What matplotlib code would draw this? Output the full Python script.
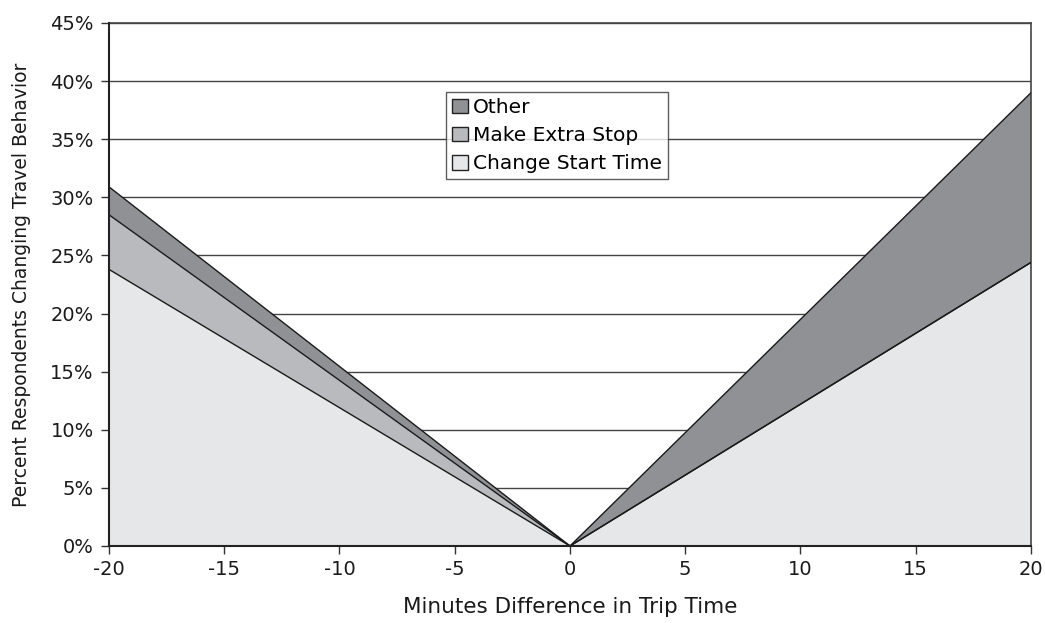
import matplotlib
matplotlib.use("Agg")
import matplotlib.pyplot as plt
from matplotlib.patches import Patch
from matplotlib.ticker import FuncFormatter

plt.rcParams['font.family'] = ['DejaVu Sans']
plt.rcParams['axes.unicode_minus'] = False

minutes = [-20, 0, 20]
change_start = [23.8, 0.0, 24.4]
extra_stop = [4.7, 0.0, 0.0]
other = [2.4, 0.0, 14.6]
labels = ["Change Start Time", "Make Extra Stop", "Other"]
colors = ["#e6e7e9", "#b9babd", "#909195"]

fig = plt.figure(figsize=(10.45, 6.23), dpi=100)
ax = fig.add_axes([0.1043, 0.1236, 0.8823, 0.8395])

series = [change_start, extra_stop, other]
base = [0.0] * len(minutes)
for vals, col in zip(series, colors):
    top = [b + v for b, v in zip(base, vals)]
    ax.fill_between(minutes, base, top, facecolor=col, edgecolor='none', zorder=2)
    ax.plot(minutes, top, color='#1a1a1a', lw=1.0, zorder=3)
    base = top

ax.set_xlim(-20, 20)
ax.set_ylim(0, 45)
ax.set_xticks(range(-20, 21, 5))
ax.set_yticks(range(0, 46, 5))
ax.yaxis.set_major_formatter(FuncFormatter(lambda v, p: f"{int(v)}%"))
ax.grid(axis='y', color='#444444', lw=1.0, zorder=1)
ax.set_axisbelow(True)
ax.tick_params(direction='out', length=6, width=1, color='#333333', labelsize=14, labelcolor='#1a1a1a', pad=5)
ax.tick_params(axis='x', pad=4)
for s in ['left', 'bottom']:
    ax.spines[s].set_color('#222222')
    ax.spines[s].set_linewidth(1.5)
    ax.spines[s].set_zorder(5)
ax.spines['right'].set_color('#444444')
ax.spines['right'].set_linewidth(1.2)
ax.spines['top'].set_color('#444444')
ax.spines['top'].set_linewidth(1.2)

ax.set_xlabel("Minutes Difference in Trip Time", fontsize=15.5, color='#1a1a1a', labelpad=13)
ax.set_ylabel("Percent Respondents Changing Travel Behavior", fontsize=13.5, color='#1a1a1a', labelpad=14)

handles = [Patch(facecolor=c, edgecolor='#222222', lw=1) for c in colors[::-1]]
leg = ax.legend(handles, labels[::-1], loc='upper left', bbox_to_anchor=(0.366, 0.868),
                fontsize=14.5, frameon=True, fancybox=False, edgecolor='#333333',
                handlelength=0.75, handleheight=0.75, handletextpad=0.25,
                borderpad=0.3, labelspacing=0.45, borderaxespad=0)
leg.get_frame().set_linewidth(1.0)
leg.set_zorder(10)

fig.savefig("out.png", dpi=100)
